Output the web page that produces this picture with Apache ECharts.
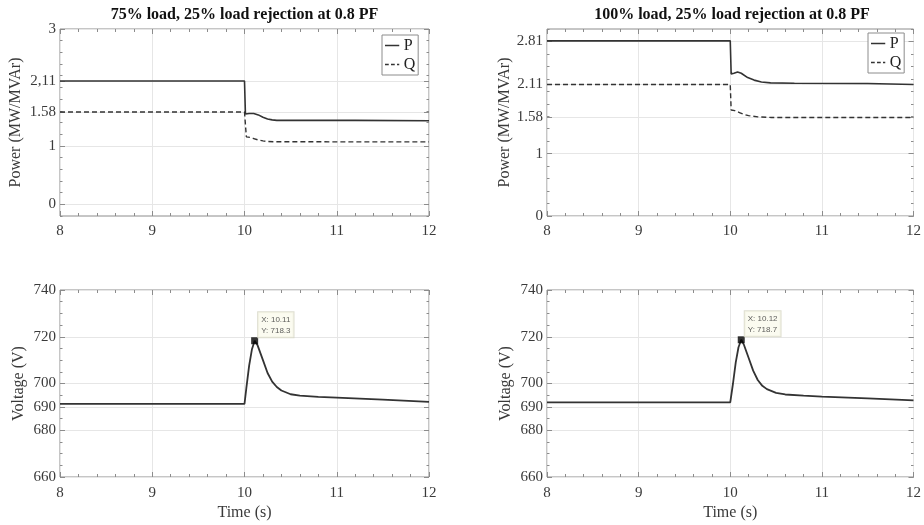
<!DOCTYPE html>
<html>
<head>
<meta charset="utf-8">
<script src="https://cdn.jsdelivr.net/npm/echarts@6/dist/echarts.min.js"></script>
<style>
html,body{margin:0;padding:0;background:#fff;}
#chart{width:924px;height:525px;}
</style>
</head>
<body>
<div id="chart"></div>
<script>
// ---------- DATA ----------
const titles = ['75% load, 25% load rejection at 0.8 PF', '100% load, 25% load rejection at 0.8 PF'];
const xTicks = [8, 9, 10, 11, 12];

// Top-left: 75% load
const tP75 = [8, 10.0, 10.01, 10.05, 10.1, 10.15, 10.2, 10.25, 10.3, 10.35, 11.2, 11.21, 12];
const P75  = [2.11, 2.11, 1.545, 1.555, 1.555, 1.53, 1.49, 1.46, 1.445, 1.437, 1.437, 1.43, 1.43];
const tQ75 = [8, 10.0, 10.02, 10.06, 10.1, 10.15, 10.2, 10.25, 10.33, 12];
const Q75  = [1.58, 1.58, 1.155, 1.145, 1.125, 1.1, 1.085, 1.076, 1.07, 1.068];

// Top-right: 100% load
const tP100 = [8, 10.0, 10.01, 10.04, 10.08, 10.12, 10.19, 10.26, 10.34, 10.44, 10.7, 11.5, 12];
const P100  = [2.81, 2.81, 2.28, 2.29, 2.31, 2.29, 2.22, 2.18, 2.15, 2.135, 2.13, 2.125, 2.11];
const tQ100 = [8, 10.0, 10.01, 10.05, 10.1, 10.15, 10.2, 10.3, 10.45, 12];
const Q100  = [2.11, 2.11, 1.70, 1.69, 1.66, 1.63, 1.61, 1.59, 1.58, 1.58];

// Bottom: voltage
const tV75 = [8, 10.0, 10.02, 10.05, 10.08, 10.11, 10.14, 10.2, 10.25, 10.3, 10.35, 10.4, 10.5, 10.6, 10.8, 11.0, 11.5, 12];
const V75  = [691.3, 691.3, 698, 707.5, 714.5, 718.3, 716.5, 710, 704.5, 700.8, 698.5, 697, 695.4, 694.8, 694.3, 694.0, 693.1, 692.1];
const tV100 = [8, 10.0, 10.03, 10.06, 10.09, 10.12, 10.15, 10.2, 10.25, 10.3, 10.35, 10.4, 10.5, 10.6, 10.8, 11.0, 11.5, 12];
const V100  = [691.9, 691.9, 700, 709, 715.5, 718.7, 716.5, 711, 705.5, 701.5, 699, 697.6, 696, 695.3, 694.8, 694.4, 693.6, 692.8];

// Data tips
const tip75 = [10.11, 718.3];
const tip100 = [10.12, 718.7];

// Y ticks
const powerTicksL = [0, 1, 1.58, 2.11, 3];
const powerLabelsL = ['0', '1', '1.58', '2,11', '3'];
const powerTicksR = [0, 1, 1.58, 2.11, 2.81];
const powerLabelsR = ['0', '1', '1.58', '2.11', '2.81'];
const voltTicks = [660, 680, 690, 700, 720, 740];
const voltLabels = ['660', '680', '690', '700', '720', '740'];

// ---------- STYLE / LAYOUT ----------
const FONT = '"Liberation Serif", "DejaVu Serif", serif';
const AX = '#8c8c8c';
const GRIDC = '#e6e6e6';
const LBL = '#3a3a3a';
const LINEC = '#333333';

const grids = [
  {left: 60,  top: 29,  width: 369, height: 187},
  {left: 547, top: 29,  width: 370, height: 187},
  {left: 60,  top: 290, width: 369, height: 187},
  {left: 547, top: 290, width: 370, height: 187}
];
const yCfg = [
  {min: -0.2, max: 3, ticks: powerTicksL, labels: powerLabelsL, minor: 0.2, name: 'Power (MW/MVAr)', gap: 36},
  {min: 0, max: 3, ticks: powerTicksR, labels: powerLabelsR, minor: 0.2, name: 'Power (MW/MVAr)', gap: 34},
  {min: 660, max: 740, ticks: voltTicks, labels: voltLabels, minor: 5, name: 'Voltage (V)', gap: 33},
  {min: 660, max: 740, ticks: voltTicks, labels: voltLabels, minor: 5, name: 'Voltage (V)', gap: 33}
];

function pairs(t, v) { return t.map((x, i) => [x, v[i]]); }

const xAxes = [], yAxes = [];
grids.forEach((g, gi) => {
  const bottomRow = gi >= 2;
  [ 'bottom', 'top' ].forEach(pos => {
    xAxes.push({
      type: 'value', gridIndex: gi, position: pos, min: 8, max: 12, interval: 1,
      name: (pos === 'bottom' && bottomRow) ? 'Time (s)' : '',
      nameLocation: 'middle', nameGap: 28,
      nameTextStyle: {fontFamily: FONT, fontSize: 16, color: LBL},
      axisLine: {show: false, onZero: false},
      axisTick: {show: true, inside: true, length: 5, lineStyle: {color: AX}},
      minorTick: {show: true, splitNumber: 5, length: 3, lineStyle: {color: AX}},
      axisLabel: {show: pos === 'bottom', fontFamily: FONT, fontSize: 15, color: LBL, margin: bottomRow ? 9 : 8,
        formatter: v => xTicks.indexOf(v) >= 0 ? String(v) : ''},
      splitLine: {show: pos === 'bottom', lineStyle: {color: GRIDC, width: 1}}
    });
  });
  const c = yCfg[gi];
  yAxes.push({
    type: 'value', gridIndex: gi, position: 'left', offset: 0, min: c.min, max: c.max,
    name: c.name, nameLocation: 'middle', nameGap: c.gap, nameRotate: 90,
    nameTextStyle: {fontFamily: FONT, fontSize: 16, color: LBL},
    axisLine: {show: false, onZero: false},
    axisTick: {show: true, inside: true, length: 5, customValues: c.ticks, lineStyle: {color: AX}},
    axisLabel: {show: true, customValues: c.ticks, fontFamily: FONT, fontSize: 15, color: LBL, margin: 4,
      formatter: v => { const i = c.ticks.indexOf(v); return i >= 0 ? c.labels[i] : ''; }},
    splitLine: {show: true, lineStyle: {color: GRIDC, width: 1}}
  });
  yAxes.push({
    type: 'value', gridIndex: gi, position: 'left', offset: 0, min: c.min, max: c.max, interval: c.minor,
    axisLine: {show: false, onZero: false},
    axisTick: {show: true, inside: true, length: 2.5, lineStyle: {color: AX}},
    axisLabel: {show: false}, splitLine: {show: false}
  });
  yAxes.push({
    type: 'value', gridIndex: gi, position: 'right', offset: 0, min: c.min, max: c.max,
    axisLine: {show: false, onZero: false},
    axisTick: {show: true, inside: true, length: 5, customValues: c.ticks, lineStyle: {color: AX}},
    axisLabel: {show: false, customValues: c.ticks}, splitLine: {show: false}
  });
  yAxes.push({
    type: 'value', gridIndex: gi, position: 'right', offset: 0, min: c.min, max: c.max, interval: c.minor,
    axisLine: {show: false, onZero: false},
    axisTick: {show: true, inside: true, length: 2.5, lineStyle: {color: AX}},
    axisLabel: {show: false}, splitLine: {show: false}
  });
});

function lineSeries(name, data, gi, dashed) {
  return {
    type: 'line', name: name, data: data, xAxisIndex: gi * 2, yAxisIndex: gi * 4,
    symbol: 'none', smooth: false, animation: false, z: 5,
    lineStyle: {color: LINEC, width: dashed ? 1.4 : 1.6, type: dashed ? [5, 3] : 'solid'},
    itemStyle: {color: LINEC}
  };
}
function tipSeries(tip, gi) {
  return {
    type: 'scatter', data: [tip], xAxisIndex: gi * 2, yAxisIndex: gi * 4,
    symbol: 'rect', symbolSize: 7, z: 10, animation: false,
    itemStyle: {color: '#000'},
    label: {
      show: true, position: [7, 0], align: 'left', verticalAlign: 'bottom',
      formatter: 'X: ' + tip[0] + '\nY: ' + tip[1],
      fontFamily: 'Arial, "Liberation Sans", sans-serif', fontSize: 8, lineHeight: 11, color: '#333',
      backgroundColor: '#fafaec', borderColor: '#d6d6c4', borderWidth: 1, padding: [2, 3, 1, 3]
    }
  };
}

const series = [
  lineSeries('P', pairs(tP75, P75), 0, false),
  lineSeries('Q', pairs(tQ75, Q75), 0, true),
  lineSeries('P', pairs(tP100, P100), 1, false),
  lineSeries('Q', pairs(tQ100, Q100), 1, true),
  lineSeries('V75', pairs(tV75, V75), 2, false),
  lineSeries('V100', pairs(tV100, V100), 3, false),
  tipSeries(tip75, 2),
  tipSeries(tip100, 3)
];
series[4].lineStyle.width = 1.8;
series[5].lineStyle.width = 1.8;

const ICON_SOLID = 'path://M0,0h19v2h-19z';
const ICON_DASH = 'path://M0,0h5v2h-5zM8,0h5v2h-5zM16,0h3v2h-3z';

function legendAt(left, top) {
  return {
    data: [{name: 'P', icon: ICON_SOLID}, {name: 'Q', icon: ICON_DASH}],
    orient: 'vertical', left: left, top: top,
    itemWidth: 19, itemHeight: 1.5, itemGap: 2, padding: [2, 3, 2, 3],
    itemStyle: {color: LINEC, borderWidth: 0},
    lineStyle: {width: 0},
    backgroundColor: '#fff', borderColor: '#8c8c8c', borderWidth: 1,
    textStyle: {fontFamily: FONT, fontSize: 16, color: '#222', padding: [0, 0, 0, -3], lineHeight: 17},
    selectedMode: false
  };
}

const option = {
  animation: false,
  backgroundColor: '#fff',
  title: [
    {text: titles[0], left: 244.5, top: 7, textAlign: 'center', padding: 0,
     textStyle: {fontFamily: FONT, fontSize: 16, fontWeight: 'bold', color: '#111'}},
    {text: titles[1], left: 732, top: 7, textAlign: 'center', padding: 0,
     textStyle: {fontFamily: FONT, fontSize: 16, fontWeight: 'bold', color: '#111'}}
  ],
  legend: [legendAt(382, 35), legendAt(868, 33)],
  grid: grids.map(g => Object.assign({show: true, borderColor: AX, borderWidth: 1, backgroundColor: 'transparent', containLabel: false}, g)),
  xAxis: xAxes,
  yAxis: yAxes,
  series: series
};

const chart = echarts.init(document.getElementById('chart'), null, {renderer: 'canvas'});
chart.setOption(option);
</script>
</body>
</html>
